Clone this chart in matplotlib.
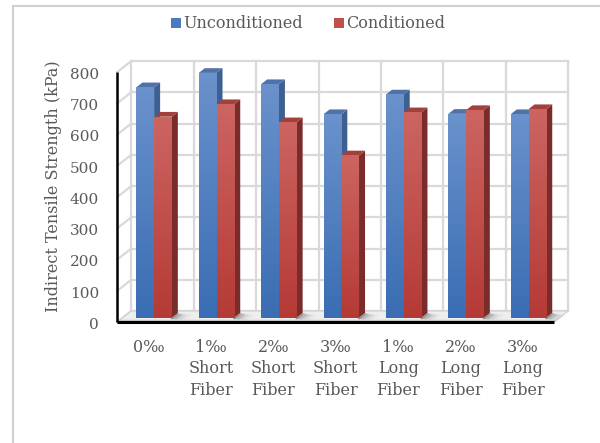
import numpy as np
import matplotlib
matplotlib.use("Agg")
import matplotlib.pyplot as plt
from matplotlib.patches import Polygon, Rectangle
from matplotlib.colors import LinearSegmentedColormap

# ---- data -------------------------------------------------------------
categories = ["0‰", "1‰\nShort\nFiber", "2‰\nShort\nFiber", "3‰\nShort\nFiber",
              "1‰\nLong\nFiber", "2‰\nLong\nFiber", "3‰\nLong\nFiber"]
unconditioned = [737, 783, 747, 651, 714, 652, 651]
conditioned = [643, 683, 625, 519, 657, 664, 667]
series_names = ["Unconditioned", "Conditioned"]
y_ticks = [0, 100, 200, 300, 400, 500, 600, 700, 800]
y_label = "Indirect Tensile Strength (kPa)"

# ---- pseudo-3D geometry ----------------------------------------------
DX = 0.2244      # horizontal shift from front plane to back wall (category units)
DV = 35.2        # vertical shift from front plane to back wall (kPa units)
BW = 0.284       # bar width (category units)
T0, T1 = 0.40, 0.83   # bar depth range
YMAX = 800

def P(x, v, t):
    return (x + DX * t, v + DV * t)

TEXT = "#595959"
GRID = "#d9d9d9"
FONT = ["DejaVu Serif"]
FS = 11.5
FS_TICK = 11

fig = plt.figure(figsize=(6.0, 4.43), dpi=100)
ax = fig.add_axes([0, 0, 1, 1])
XLIM = (-148.5 / 62.4, (600 - 148.5) / 62.4)
YLIM = ((322 - 443) / 0.3125, 322 / 0.3125)
ax.set_xlim(*XLIM)
ax.set_ylim(*YLIM)
ax.axis("off")

# outer frame of the chart area
fig.patches.append(Rectangle((13 / 600, -0.1), 1.2, (443 - 6) / 443 + 0.1,
                             transform=fig.transFigure, fill=False,
                             edgecolor="#d0d0d0", lw=1.5))

n = len(categories)
xl, xr = -0.5, n - 0.5

# back wall grid
for v in y_ticks:
    ax.plot(*zip(P(xl, v, 1), P(xr, v, 1)), color=GRID, lw=1.6, zorder=1)
    ax.plot(*zip(P(xl, v, 0), P(xl, v, 1)), color=GRID, lw=1.6, zorder=1)
for k in range(n + 1):
    ax.plot(*zip(P(xl + k, 0, 1), P(xl + k, YMAX, 1)), color=GRID, lw=1.6, zorder=1)

# floor
floor = Polygon([P(xl, 0, 0), P(xr, 0, 0), P(xr, 0, 1), P(xl, 0, 1)],
                closed=True, facecolor="#eeeeee", edgecolor="#cfcfcf", lw=0.8, zorder=2)
ax.add_patch(floor)
ax.plot(*zip(P(xl, 0, 0.15), P(xr, 0, 0.15)), color="#c8c8c8", lw=1.0, zorder=2)

# floor shadows to the right of each bar pair
for i in range(n):
    xe = i + BW
    for k, a in enumerate([0.55, 0.35, 0.2, 0.1]):
        w = 0.05 + 0.07 * k
        sh = Polygon([P(xe, 0, T1), P(xe, 0, T0 - 0.1), P(xe + w, 0, 0.2), P(xe + w, 0, T1 - 0.2)],
                     closed=True, facecolor="#404040", edgecolor="none", alpha=a * 0.5, zorder=3)
        ax.add_patch(sh)

# front axis lines
ax.plot([xl, xl], [0, YMAX], color="black", lw=1.8, zorder=4, solid_capstyle="butt")
ax.plot([xl, xr], [0, 0], color="black", lw=2.2, zorder=20, solid_capstyle="butt")

blue_front = LinearSegmentedColormap.from_list("bf", ["#3a6db3", "#6a92cc"])
red_front = LinearSegmentedColormap.from_list("rf", ["#b53a36", "#cc6561"])
grad = np.linspace(0, 1, 256).reshape(-1, 1)

styles = [
    dict(cmap=blue_front, side="#3d5f92", top="#4f72a8", offset=-BW),
    dict(cmap=red_front, side="#7a2c2a", top="#a3403c", offset=0.0),
]

z = 5
for i in range(n):
    for vals, st in zip([unconditioned, conditioned], styles):
        v = vals[i]
        x0 = i + st["offset"]
        x1 = x0 + BW
        # right side face
        ax.add_patch(Polygon([P(x1, 0, T0), P(x1, v, T0), P(x1, v, T1), P(x1, 0, T1)],
                             closed=True, facecolor=st["side"], edgecolor="none", zorder=z))
        # top face
        ax.add_patch(Polygon([P(x0, v, T0), P(x1, v, T0), P(x1, v, T1), P(x0, v, T1)],
                             closed=True, facecolor=st["top"], edgecolor="none", zorder=z + 1))
        # front face with vertical gradient
        fx0, fy0 = P(x0, 0, T0)
        fx1, fy1 = P(x1, v, T0)
        ax.imshow(grad, extent=[fx0, fx1, fy0, fy1], origin="lower", cmap=st["cmap"],
                  aspect="auto", interpolation="bilinear", zorder=z + 2)
        z += 3

ax.set_xlim(*XLIM)
ax.set_ylim(*YLIM)

# tick labels
for v in y_ticks:
    ax.text(xl - 0.29, v - 9, str(v), ha="right", va="center", fontsize=FS_TICK,
            color=TEXT, family=FONT)
for i, lab in enumerate(categories):
    ax.text(i, -53, lab, ha="center", va="top", fontsize=FS, color=TEXT,
            family=FONT, linespacing=1.35)

ax.text(-1.53, 435, y_label, rotation=90, ha="center", va="center",
        fontsize=FS, color=TEXT, family=FONT)

# legend
leg_colors = ["#4a7bc0", "#c0504d"]
leg_x = [176 / 600, 339 / 600]
for name, c, lx in zip(series_names, leg_colors, leg_x):
    fig.patches.append(Rectangle((lx - 5 / 600, 1 - 28 / 443), 10 / 600, 10 / 443,
                                 transform=fig.transFigure, facecolor=c, edgecolor="none"))
    fig.text(lx + 7 / 600, 1 - 23 / 443, name, ha="left", va="center", fontsize=FS,
             color=TEXT, family=FONT)

fig.savefig("out.png", dpi=100)
